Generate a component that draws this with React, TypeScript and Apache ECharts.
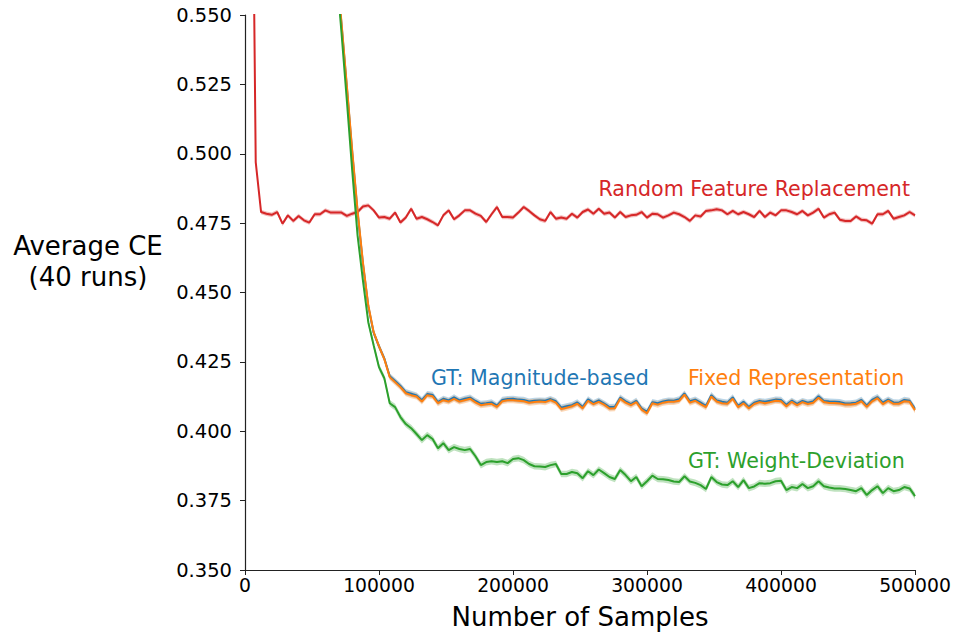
import React, { useEffect, useRef } from "react";
import * as echarts from "echarts";

// x: number of samples (every 4000 samples)
const samples: number[] = Array.from({ length: 125 }, (_, i) => (i + 1) * 4000);

const xTicks = [0, 100000, 200000, 300000, 400000, 500000];

const randomFeature: number[] = [
  0.69, 0.497, 0.479, 0.4784, 0.478, 0.479, 0.4748, 0.4778, 0.4758, 0.4776,
  0.476, 0.4752, 0.4782, 0.4782, 0.4796, 0.4788, 0.4788, 0.4788, 0.4776, 0.4784,
  0.479, 0.481, 0.4814, 0.4796, 0.477, 0.4772, 0.4766, 0.4788, 0.4752, 0.477,
  0.4802, 0.4766, 0.4772, 0.4764, 0.4754, 0.4742, 0.4778, 0.4796, 0.4764, 0.4778,
  0.4796, 0.4796, 0.4784, 0.4776, 0.4754, 0.4782, 0.4808, 0.4772, 0.4772, 0.477,
  0.4788, 0.4808, 0.4794, 0.4778, 0.4764, 0.4758, 0.479, 0.4766, 0.477, 0.4766,
  0.4784, 0.477, 0.479, 0.4799, 0.4784, 0.4802, 0.4784, 0.4788, 0.477, 0.479,
  0.4772, 0.4778, 0.478, 0.479, 0.477, 0.4784, 0.4782, 0.477, 0.4778, 0.4788,
  0.4782, 0.4772, 0.4758, 0.4778, 0.4774, 0.4794, 0.4796, 0.48, 0.4796, 0.4782,
  0.4794, 0.4782, 0.479, 0.4782, 0.4772, 0.4794, 0.4772, 0.4788, 0.4778, 0.4796,
  0.4796, 0.479, 0.4782, 0.4794, 0.4778, 0.4788, 0.4802, 0.477, 0.4782, 0.4788,
  0.4762, 0.4758, 0.4758, 0.4774, 0.4762, 0.476, 0.4748, 0.4782, 0.4782, 0.4794,
  0.4766, 0.4772, 0.4778, 0.479, 0.4778,
];

const magnitudeBased: number[] = [
  0.694, 0.691, 0.688, 0.684, 0.679, 0.673, 0.666, 0.658, 0.649, 0.639,
  0.628, 0.616, 0.605, 0.594, 0.585, 0.577, 0.569, 0.5468, 0.524, 0.5006,
  0.479, 0.4604, 0.445, 0.4355, 0.4306, 0.4262, 0.4198, 0.4181, 0.4163, 0.4141,
  0.4135, 0.4129, 0.4112, 0.4134, 0.4131, 0.4105, 0.4117, 0.4111, 0.4122, 0.4111,
  0.4117, 0.4121, 0.4109, 0.4099, 0.4101, 0.4104, 0.4092, 0.4113, 0.4116, 0.4117,
  0.4114, 0.4113, 0.4107, 0.411, 0.4111, 0.411, 0.4116, 0.4108, 0.4085, 0.409,
  0.4094, 0.4104, 0.4087, 0.4115, 0.4102, 0.4111, 0.41, 0.4087, 0.4088, 0.4121,
  0.4108, 0.4098, 0.411, 0.4082, 0.407, 0.4105, 0.4101, 0.4107, 0.4111, 0.411,
  0.4115, 0.4136, 0.4108, 0.4114, 0.4103, 0.4091, 0.413, 0.4111, 0.4106, 0.4103,
  0.4122, 0.4091, 0.4106, 0.4087, 0.4103, 0.4109, 0.4106, 0.411, 0.4114, 0.4113,
  0.4095, 0.411, 0.4099, 0.4109, 0.4103, 0.4107, 0.4126, 0.4109, 0.4107, 0.4106,
  0.4105, 0.41, 0.4101, 0.4103, 0.4113, 0.4092, 0.4113, 0.4123, 0.4103, 0.4114,
  0.4104, 0.4103, 0.4113, 0.411, 0.4081,
];

const fixedRepresentation: number[] = [
  0.695, 0.692, 0.689, 0.685, 0.68, 0.674, 0.667, 0.659, 0.65, 0.64,
  0.629, 0.617, 0.606, 0.595, 0.586, 0.578, 0.57, 0.5473, 0.5246, 0.5012,
  0.4796, 0.4609, 0.4454, 0.4357, 0.4306, 0.426, 0.4195, 0.4177, 0.4159, 0.4137,
  0.413, 0.4125, 0.4107, 0.413, 0.4126, 0.4101, 0.4112, 0.4107, 0.4117, 0.4107,
  0.4112, 0.4117, 0.4104, 0.4094, 0.4097, 0.4099, 0.4088, 0.4108, 0.4112, 0.4112,
  0.411, 0.4108, 0.4103, 0.4105, 0.4107, 0.4105, 0.4112, 0.4103, 0.408, 0.4085,
  0.409, 0.4099, 0.4083, 0.411, 0.4098, 0.4106, 0.4096, 0.4082, 0.4083, 0.4117,
  0.4103, 0.4094, 0.4105, 0.4078, 0.4065, 0.4101, 0.4096, 0.4103, 0.4106, 0.4106,
  0.411, 0.4132, 0.4103, 0.411, 0.4098, 0.4087, 0.4125, 0.4107, 0.4101, 0.4099,
  0.4117, 0.4087, 0.4101, 0.4083, 0.4098, 0.4105, 0.4101, 0.4105, 0.411, 0.4108,
  0.409, 0.4106, 0.4094, 0.4105, 0.4098, 0.4103, 0.4121, 0.4105, 0.4102, 0.4102,
  0.41, 0.4096, 0.4096, 0.4099, 0.4108, 0.4088, 0.4108, 0.4119, 0.4098, 0.411,
  0.4099, 0.4099, 0.4108, 0.4106, 0.4076,
];

const weightDeviation: number[] = [
  0.693, 0.69, 0.687, 0.683, 0.678, 0.672, 0.665, 0.657, 0.648, 0.638,
  0.627, 0.615, 0.603, 0.592, 0.582, 0.575, 0.567, 0.5437, 0.5192, 0.494,
  0.4706, 0.4544, 0.4393, 0.431, 0.4231, 0.4191, 0.4101, 0.4087, 0.4051, 0.4026,
  0.4011, 0.399, 0.3968, 0.3986, 0.3972, 0.3939, 0.3957, 0.3932, 0.3943, 0.3936,
  0.3932, 0.3936, 0.391, 0.3878, 0.3889, 0.3892, 0.3889, 0.3892, 0.3885, 0.39,
  0.3903, 0.3896, 0.3882, 0.3874, 0.3873, 0.3871, 0.3878, 0.3882, 0.3846, 0.3846,
  0.3853, 0.3849, 0.3831, 0.3856, 0.3842, 0.3862, 0.3849, 0.3835, 0.3828, 0.386,
  0.3842, 0.382, 0.3835, 0.3802, 0.382, 0.384, 0.3828, 0.3827, 0.3824, 0.3819,
  0.3817, 0.3838, 0.3819, 0.3814, 0.3806, 0.3792, 0.3835, 0.3817, 0.3808, 0.3806,
  0.382, 0.3799, 0.3824, 0.3795, 0.3801, 0.3813, 0.3811, 0.3813, 0.382, 0.3822,
  0.3788, 0.3799, 0.3795, 0.381, 0.3795, 0.3802, 0.382, 0.3802, 0.3797, 0.3794,
  0.3794, 0.3792, 0.3788, 0.3784, 0.3795, 0.377, 0.3788, 0.3802, 0.3777, 0.3795,
  0.3784, 0.3788, 0.3799, 0.3794, 0.3766,
];

// half-width of the shaded uncertainty band per series
const randomFeatureSpread = 0.0008;
const magnitudeSpread = 0.0011;
const fixedSpread = 0.0011;
const weightSpread = 0.0012;

const seriesNames = [
  "Random Feature Replacement",
  "GT: Magnitude-based",
  "Fixed Representation",
  "GT: Weight-Deviation",
];

const COLORS = ["#d62728", "#1f77b4", "#ff7f0e", "#2ca02c"];

function buildSeries(name: string, values: number[], spread: number, color: string) {
  const band = {
    type: "custom",
    name: name + " band",
    silent: true,
    data: [[samples[0], values[0]]],
    renderItem: (params: any, api: any) => {
      if (params.dataIndex !== 0) return null;
      const upper = values.map((v, i) => api.coord([samples[i], v + spread]));
      const lower = values.map((v, i) => api.coord([samples[i], v - spread])).reverse();
      const cs = params.coordSys;
      return {
        type: "polygon",
        shape: { points: upper.concat(lower) },
        style: { fill: color, opacity: 0.3 },
        clipPath: {
          type: "rect",
          shape: { x: cs.x, y: cs.y, width: cs.width, height: cs.height },
        },
      };
    },
  };
  const line = {
    type: "line",
    name,
    data: values.map((v, i) => [samples[i], v]),
    symbol: "none",
    silent: true,
    lineStyle: { color, width: 2 },
  };
  return [band, line];
}

export default function App() {
  const ref = useRef<HTMLDivElement>(null);

  useEffect(() => {
    if (!ref.current) return;
    const chart = echarts.init(ref.current, null, { renderer: "svg" });
    const labelFont = "DejaVu Sans";
    const annotationSize = 20.6;
    const option: any = {
      animation: false,
      grid: { left: 245, top: 15, right: 43, bottom: 66, containLabel: false },
      xAxis: {
        type: "value",
        min: xTicks[0],
        max: xTicks[xTicks.length - 1],
        interval: 100000,
        axisLine: { show: true, lineStyle: { color: "#222", width: 1.2 } },
        axisTick: { show: true, inside: false, length: 5, lineStyle: { color: "#222", width: 1 } },
        axisLabel: {
          color: "#000",
          fontSize: 18.8,
          fontFamily: labelFont,
          margin: 6,
          formatter: (v: number) => String(v),
        },
        splitLine: { show: false },
      },
      yAxis: {
        type: "value",
        min: 0.35,
        max: 0.55,
        interval: 0.025,
        axisLine: { show: true, lineStyle: { color: "#222", width: 1.2 } },
        axisTick: { show: true, inside: false, length: 5, lineStyle: { color: "#222", width: 1 } },
        axisLabel: {
          color: "#000",
          fontSize: 19.5,
          fontFamily: labelFont,
          margin: 13,
          formatter: (v: number) => v.toFixed(3),
        },
        splitLine: { show: false },
      },
      series: [
        ...buildSeries(seriesNames[0], randomFeature, randomFeatureSpread, COLORS[0]),
        ...buildSeries(seriesNames[1], magnitudeBased, magnitudeSpread, COLORS[1]),
        ...buildSeries(seriesNames[2], fixedRepresentation, fixedSpread, COLORS[2]),
        ...buildSeries(seriesNames[3], weightDeviation, weightSpread, COLORS[3]),
      ],
      graphic: [
        {
          type: "text",
          x: 88,
          y: 261,
          silent: true,
          style: {
            text: "Average CE\n(40 runs)",
            fontSize: 26,
            lineHeight: 31,
            fontFamily: labelFont,
            fill: "#000",
            align: "center",
            verticalAlign: "middle",
          },
        },
        {
          type: "text",
          x: 580,
          y: 617,
          silent: true,
          style: {
            text: "Number of Samples",
            fontSize: 26,
            fontFamily: labelFont,
            fill: "#000",
            align: "center",
            verticalAlign: "middle",
          },
        },
        {
          type: "text",
          x: 910,
          y: 189,
          silent: true,
          style: {
            text: seriesNames[0],
            fontSize: annotationSize,
            fontFamily: labelFont,
            fill: COLORS[0],
            align: "right",
            verticalAlign: "middle",
          },
        },
        {
          type: "text",
          x: 431,
          y: 378,
          silent: true,
          style: {
            text: seriesNames[1],
            fontSize: annotationSize,
            fontFamily: labelFont,
            fill: COLORS[1],
            align: "left",
            verticalAlign: "middle",
          },
        },
        {
          type: "text",
          x: 688,
          y: 378,
          silent: true,
          style: {
            text: seriesNames[2],
            fontSize: annotationSize,
            fontFamily: labelFont,
            fill: COLORS[2],
            align: "left",
            verticalAlign: "middle",
          },
        },
        {
          type: "text",
          x: 688,
          y: 461,
          silent: true,
          style: {
            text: seriesNames[3],
            fontSize: annotationSize,
            fontFamily: labelFont,
            fill: COLORS[3],
            align: "left",
            verticalAlign: "middle",
          },
        },
      ],
    };
    chart.setOption(option);
    return () => chart.dispose();
  }, []);

  return <div ref={ref} style={{ width: 958, height: 636, position: "absolute", left: 0, top: 0 }} />;
}
